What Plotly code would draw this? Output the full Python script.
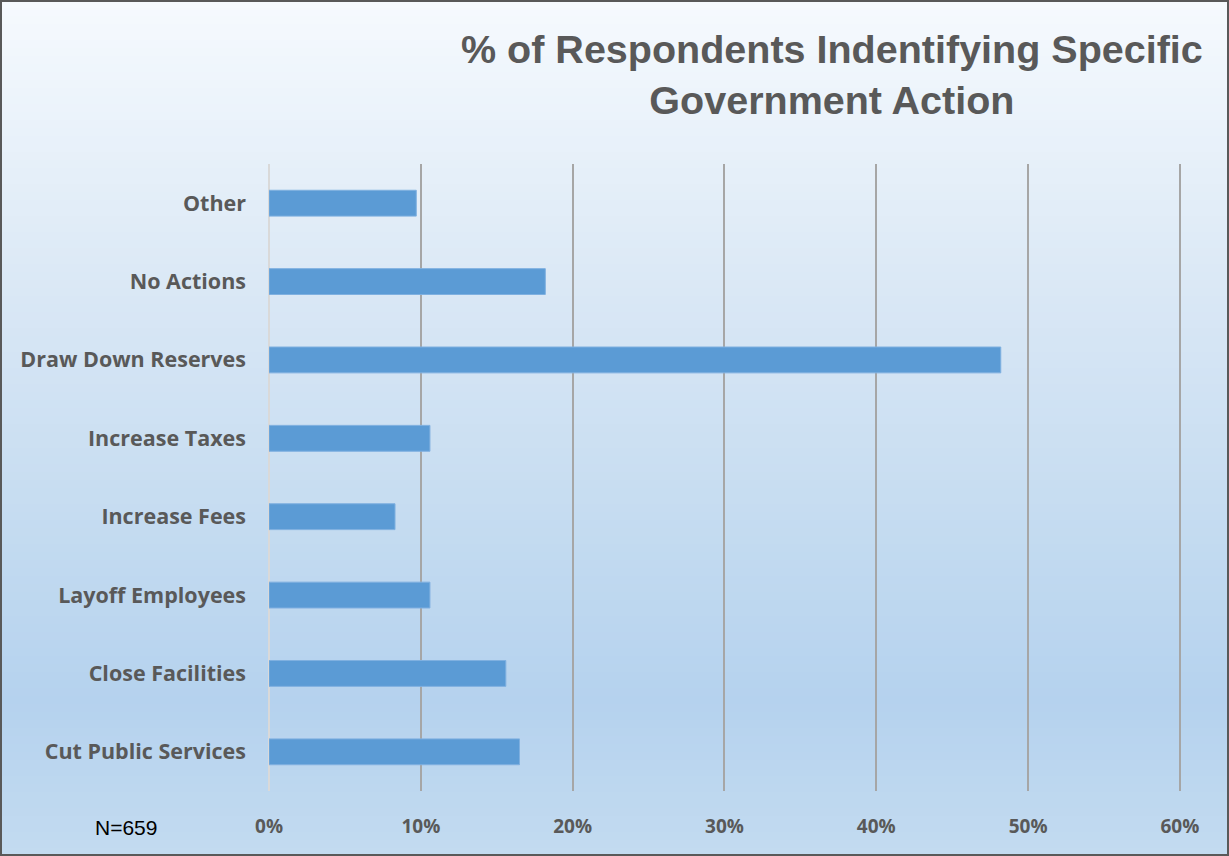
import plotly.graph_objects as go

categories = ["Cut Public Services", "Close Facilities", "Layoff Employees", "Increase Fees",
              "Increase Taxes", "Draw Down Reserves", "No Actions", "Other"]
values = [0.165, 0.156, 0.106, 0.083, 0.106, 0.482, 0.182, 0.097]
tick_vals = [0, 0.1, 0.2, 0.3, 0.4, 0.5, 0.6]
tick_text = ["0%", "10%", "20%", "30%", "40%", "50%", "60%"]

W, H = 1229, 856
XMAX = 0.604
L, T, B = 269, 164, 65
pw = round(911 * XMAX / 0.6)
R = W - L - pw
ph = H - T - B

fig = go.Figure()
fig.add_trace(go.Bar(
    y=categories, x=values, orientation="h",
    marker=dict(color="#5B9BD5", line=dict(color="#7fb0e0", width=1)),
    hoverinfo="skip",
))

# background gradient via strips
stops = [(0, (246, 250, 254)), (300, (217, 231, 245)), (550, (194, 218, 240)),
         (700, (181, 210, 238)), (856, (195, 219, 240))]

def col(yp):
    for (y0, c0), (y1, c1) in zip(stops[:-1], stops[1:]):
        if y0 <= yp <= y1:
            t = (yp - y0) / (y1 - y0)
            return tuple(round(a + (b - a) * t) for a, b in zip(c0, c1))
    return stops[-1][1]

shapes = []
step = 8
for yp in range(0, H, step):
    c = col(yp + step / 2)
    y_top = 1 + (T - yp) / ph
    y_bot = 1 + (T - yp - step - 1) / ph
    shapes.append(dict(type="rect", xref="paper", yref="paper",
                       x0=-L / pw, x1=1 + R / pw, y0=y_bot, y1=y_top,
                       fillcolor="rgb(%d,%d,%d)" % c, line=dict(width=0), layer="below"))
shapes.append(dict(type="rect", xref="paper", yref="paper",
                   x0=-(L - 1) / pw, x1=1 + (R - 1) / pw,
                   y0=-(B - 1) / ph, y1=1 + (T - 1) / ph,
                   line=dict(color="#595959", width=2), layer="above"))

fig.update_layout(
    width=W, height=H,
    margin=dict(l=L, r=R, t=T, b=B),
    paper_bgcolor="rgb(220,233,246)",
    plot_bgcolor="rgba(0,0,0,0)",
    showlegend=False,
    bargap=0.67,
    shapes=shapes,
    xaxis=dict(range=[0, XMAX], tickvals=tick_vals, ticktext=tick_text,
               showgrid=True, gridcolor="#a6a6a6", gridwidth=1.5,
               zeroline=True, zerolinecolor="#d9d9d9", zerolinewidth=2,
               showline=False, ticks="", ticklabelstandoff=22,
               tickfont=dict(family="Open Sans, sans-serif",
                             size=19, color="#595959", weight="bold")),
    yaxis=dict(showgrid=False, showline=False, ticks="", ticklabelstandoff=22,
               tickfont=dict(family="Open Sans, sans-serif", size=21.5, color="#595959",
                             weight="bold")),
    annotations=[
        dict(text="% of Respondents Indentifying Specific<br>Government Action",
             xref="paper", yref="paper", x=(832 - L) / pw, y=1 + (T - 25) / ph,
             xanchor="center", yanchor="top", align="center", showarrow=False,
             font=dict(family="Liberation Sans, Arial, sans-serif", size=39.5,
                       color="#595959", weight="bold")),
        dict(text="N=659", xref="paper", yref="paper", x=(126 - L) / pw, y=-(828 - T - ph) / ph,
             xanchor="center", yanchor="middle", showarrow=False,
             font=dict(family="Liberation Sans, Arial, sans-serif", size=21,
                       color="#000000")),
    ],
)

fig.write_html("out.html", config={"displayModeBar": False},
               post_script="document.body.style.margin='0';")
